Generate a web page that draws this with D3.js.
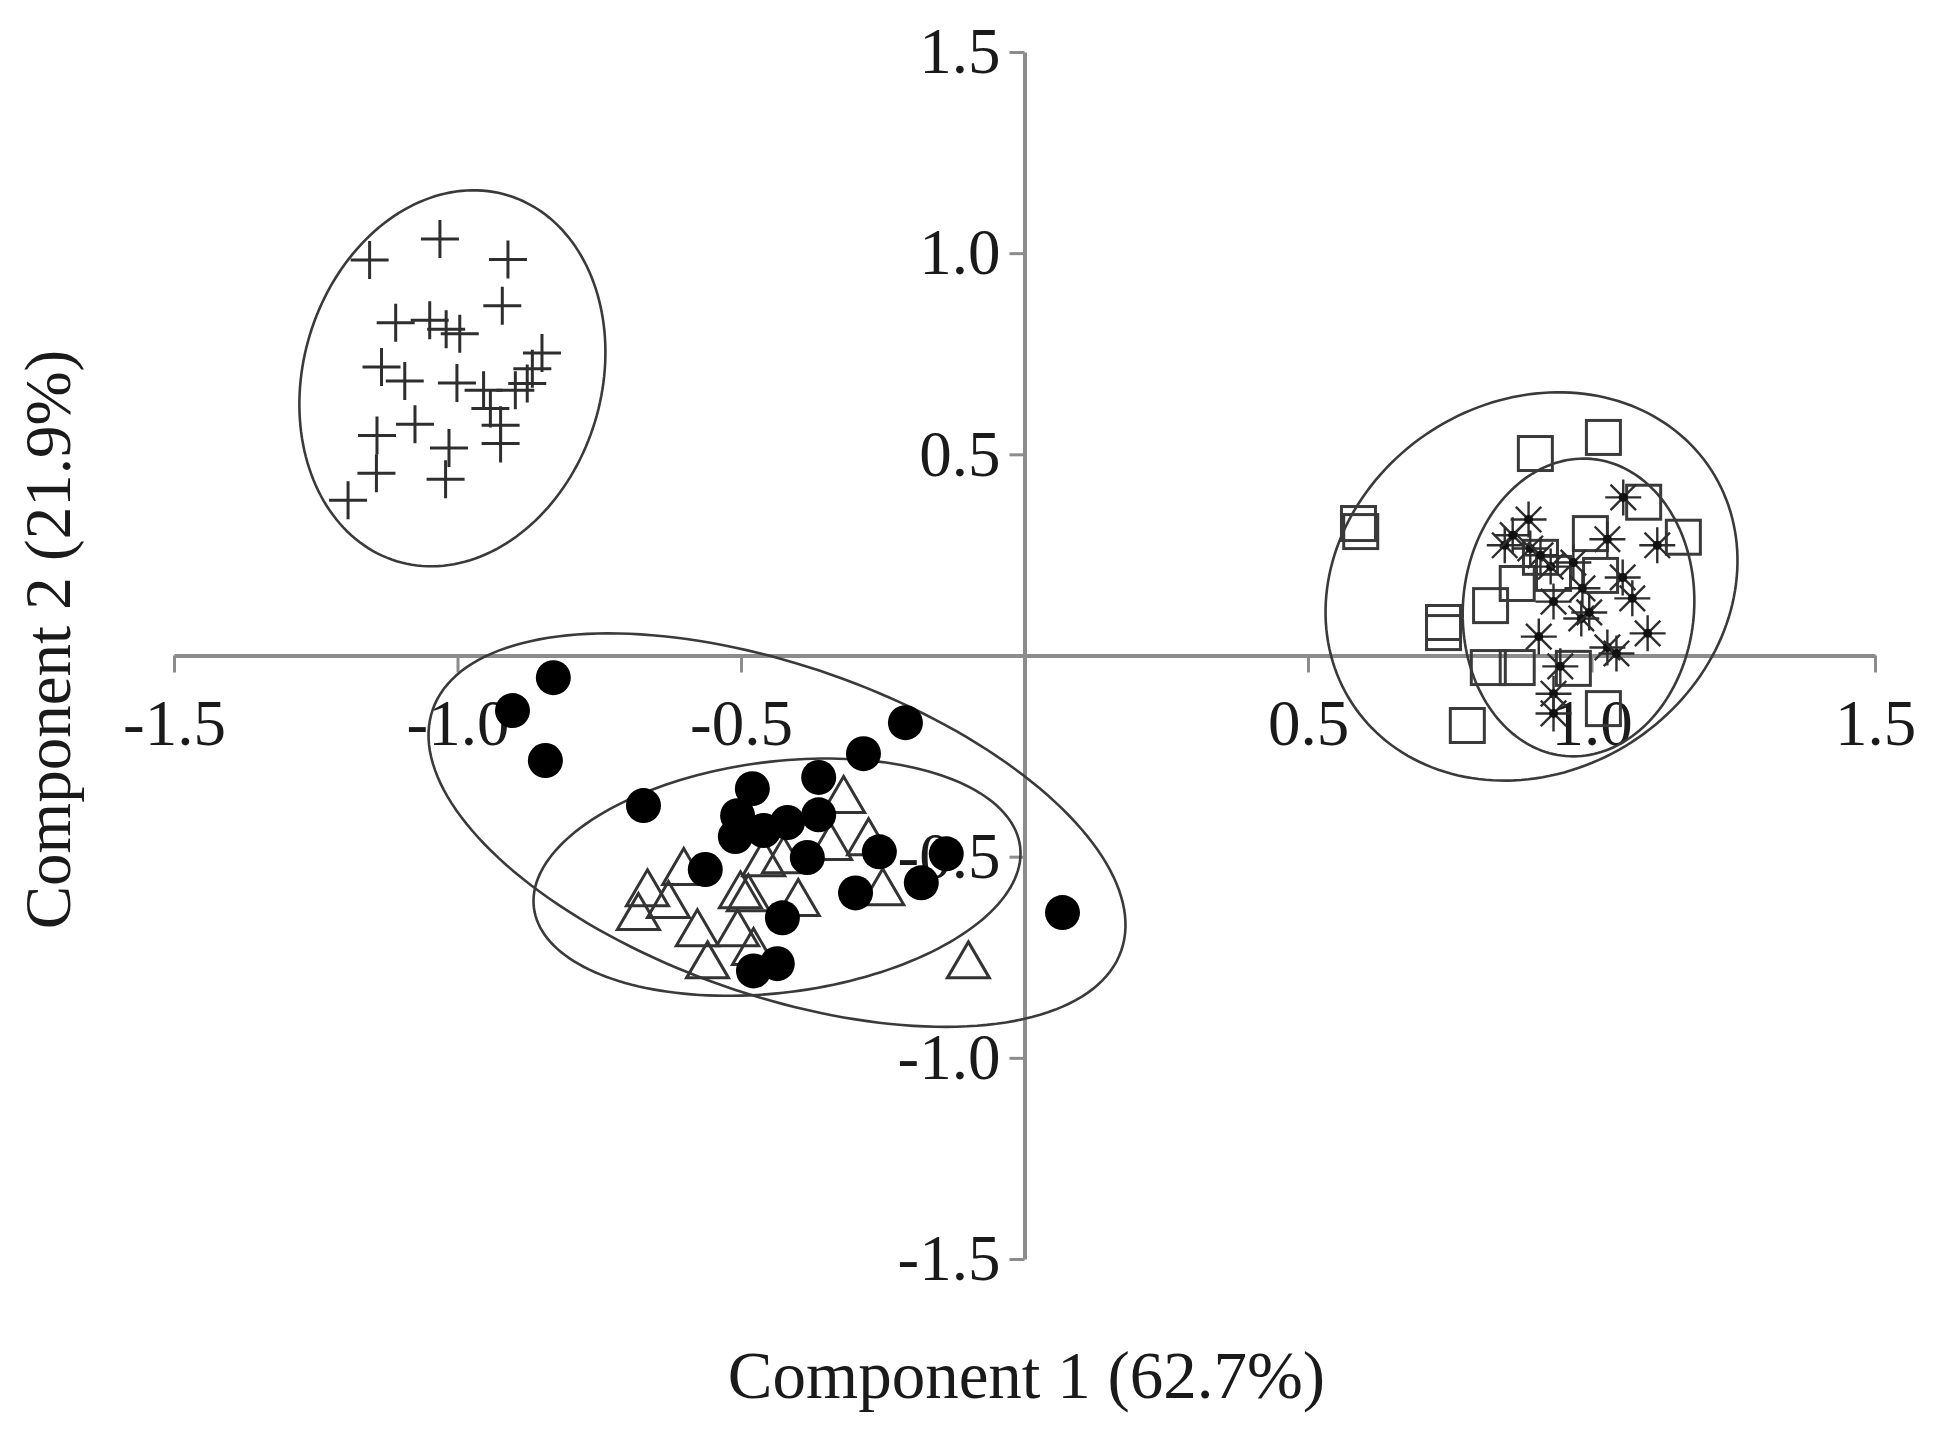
<!DOCTYPE html>
<html><head><meta charset="utf-8">
<script src="https://cdn.jsdelivr.net/npm/d3@7"></script>
<style>html,body{margin:0;padding:0;background:#fff;} svg{display:block;background:#fff;}</style>
</head><body>
<svg id="chart" width="1935" height="1443"></svg>
<script>
// ---- data ----
const xTicks = [-1.5, -1.0, -0.5, 0.5, 1.0, 1.5];
const yTicks = [-1.5, -1.0, -0.5, 0.5, 1.0, 1.5];
const xTitle = "Component 1 (62.7%)";
const yTitle = "Component 2 (21.9%)";

// group "+"
const crosses = [[-1.155,0.983],[-1.031,1.035],[-0.911,0.984],[-0.921,0.869],[-1.109,0.827],[-1.049,0.833],
 [-1.020,0.811],[-0.996,0.800],[-1.134,0.717],[-1.093,0.682],[-1.001,0.677],[-0.954,0.659],[-0.851,0.752],
 [-0.868,0.713],[-0.877,0.676],[-0.898,0.659],[-0.942,0.614],[-0.924,0.572],[-0.924,0.527],[-1.142,0.547],
 [-1.075,0.575],[-1.015,0.516],[-1.143,0.453],[-1.021,0.438],[-1.193,0.386]];
// group filled circles
const circles = [[-0.831,-0.055],[-0.903,-0.137],[-0.845,-0.261],[-0.672,-0.373],[-0.284,-0.244],[-0.210,-0.167],
 [-0.480,-0.331],[-0.363,-0.303],[-0.506,-0.398],[-0.510,-0.450],[-0.460,-0.435],[-0.418,-0.415],[-0.363,-0.396],
 [-0.563,-0.532],[-0.383,-0.502],[-0.256,-0.488],[-0.298,-0.590],[-0.427,-0.652],[-0.478,-0.784],[-0.436,-0.766],
 [-0.182,-0.565],[-0.138,-0.493],[0.067,-0.639]];
// group open triangles
const triangles = [[-0.665,-0.580],[-0.681,-0.639],[-0.601,-0.527],[-0.628,-0.609],[-0.577,-0.679],[-0.559,-0.759],
 [-0.506,-0.679],[-0.501,-0.585],[-0.487,-0.592],[-0.478,-0.726],[-0.399,-0.604],[-0.460,-0.505],[-0.425,-0.498],
 [-0.319,-0.348],[-0.275,-0.453],[-0.250,-0.577],[-0.099,-0.759],[-0.342,-0.465]];
// group open squares
const squares = [[0.589,0.328],[0.593,0.308],[0.901,0.502],[1.021,0.542],[0.739,0.082],[0.739,0.057],[0.781,-0.174],
 [1.092,0.381],[1.162,0.294],[0.998,0.303],[0.869,0.179],[0.822,0.124],[0.818,-0.030],[0.869,-0.030],[1.021,-0.132],
 [0.968,-0.032],[1.016,0.199],[0.910,0.244],[0.933,0.204]];
// group asterisks
const stars = [[1.056,0.393],[0.889,0.338],[0.847,0.274],[0.892,0.266],[1.028,0.289],[1.116,0.274],[0.928,0.221],
 [0.968,0.231],[1.055,0.194],[1.072,0.142],[0.933,0.134],[0.982,0.092],[0.907,0.047],[1.099,0.055],[1.028,0.020],
 [1.044,0.005],[0.945,-0.027],[0.933,-0.095],[0.933,-0.144],[0.984,0.167],[0.996,0.107],[0.861,0.299],[0.910,0.249]];

// confidence ellipses: centre and two semi-axis vectors (data units)
const ellipseCentres = [[-1.009,0.689],[-0.4365,-0.434],[-0.4365,-0.551],[0.8942,0.1716],[0.9771,0.1194]];
const ellipseAxisU  = [[0.0984,0.4545],[0.6071,-0.2998],[0.4287,0.0764],[0.3174,0.2885],[0.0229,0.3692]];
const ellipseAxisV  = [[0.2513,-0.1085],[-0.0959,-0.3863],[0.0256,-0.2848],[0.1767,-0.3868],[0.2030,-0.0251]];

// ---- drawing ----
const svg = d3.select("#chart");
svg.append("rect").attr("width",1935).attr("height",1443).attr("fill","#fff");
const x = d3.scaleLinear().domain([-1.5,1.5]).range([174,1875]);
const y = d3.scaleLinear().domain([-1.5,1.5]).range([1259,52]);

const axisColor = "#8c8c8c";
const textColor = "#1a1a1a";
const font = "'Liberation Serif', 'Times New Roman', serif";
const fmt = d => d.toFixed(1);

const gx = svg.append("g").attr("transform",`translate(0,${y(0)})`)
  .call(d3.axisBottom(x).tickValues(xTicks).tickFormat(fmt).tickSize(17).tickSizeOuter(0).tickPadding(26));
const gy = svg.append("g").attr("transform",`translate(${x(0)},0)`)
  .call(d3.axisLeft(y).tickValues(yTicks).tickFormat(fmt).tickSize(15).tickSizeOuter(0).tickPadding(9));
[gx,gy].forEach(g=>{
  g.select(".domain").attr("stroke",axisColor).attr("stroke-width",4);
  g.selectAll(".tick line").attr("stroke",axisColor).attr("stroke-width",3);
  g.selectAll(".tick text").attr("fill",textColor).style("font-family",font).style("font-size","65px");
});

svg.append("text").attr("x",x(0)+2).attr("y",1398).attr("text-anchor","middle")
  .attr("fill",textColor).style("font-family",font).style("font-size","67px").text(xTitle);
svg.append("text").attr("transform",`translate(70,${(y(1.5)+y(-1.5))/2 - 16}) rotate(-90)`).attr("text-anchor","middle")
  .attr("fill",textColor).style("font-family",font).style("font-size","65px").text(yTitle);

// ellipses
const angles = d3.range(0, 361, 2).map(a => a*Math.PI/180);
const line = d3.line();
ellipseCentres.forEach((c,i)=>{
  const u = ellipseAxisU[i], v = ellipseAxisV[i];
  const pts = angles.map(t => [x(c[0] + u[0]*Math.cos(t) + v[0]*Math.sin(t)),
                               y(c[1] + u[1]*Math.cos(t) + v[1]*Math.sin(t))]);
  svg.append("path").attr("d", line(pts) + "Z").attr("fill","none").attr("stroke","#3a3a3a").attr("stroke-width",2.6);
});

const mk = "#2e2e2e";
// crosses
svg.append("g").selectAll("path").data(crosses).join("path")
  .attr("transform",d=>`translate(${x(d[0])},${y(d[1])})`)
  .attr("d","M-19,0H19M0,-19V19").attr("stroke",mk).attr("stroke-width",3).attr("fill","none");
// squares
svg.append("g").selectAll("rect").data(squares).join("rect")
  .attr("x",d=>x(d[0])-17).attr("y",d=>y(d[1])-17).attr("width",34).attr("height",34)
  .attr("fill","none").attr("stroke","#3a3a3a").attr("stroke-width",3);
// stars
const starPath = (()=>{ let p=""; for(let k=0;k<4;k++){const a=k*Math.PI/4, r=18;
  p+=`M${(-r*Math.cos(a)).toFixed(2)},${(-r*Math.sin(a)).toFixed(2)}L${(r*Math.cos(a)).toFixed(2)},${(r*Math.sin(a)).toFixed(2)}`;} return p;})();
const sg = svg.append("g").selectAll("g").data(stars).join("g")
  .attr("transform",d=>`translate(${x(d[0])},${y(d[1])})`);
sg.append("path").attr("d",starPath).attr("stroke",mk).attr("stroke-width",2.4).attr("fill","none");
sg.append("circle").attr("r",4.5).attr("fill","#111");
// triangles
svg.append("g").selectAll("path").data(triangles).join("path")
  .attr("transform",d=>`translate(${x(d[0])},${y(d[1])})`)
  .attr("d","M0,-19L21,17L-21,17Z").attr("fill","none").attr("stroke","#333").attr("stroke-width",3);
// filled circles
svg.append("g").selectAll("circle").data(circles).join("circle")
  .attr("cx",d=>x(d[0])).attr("cy",d=>y(d[1])).attr("r",17.5).attr("fill","#000");
</script>
</body></html>
